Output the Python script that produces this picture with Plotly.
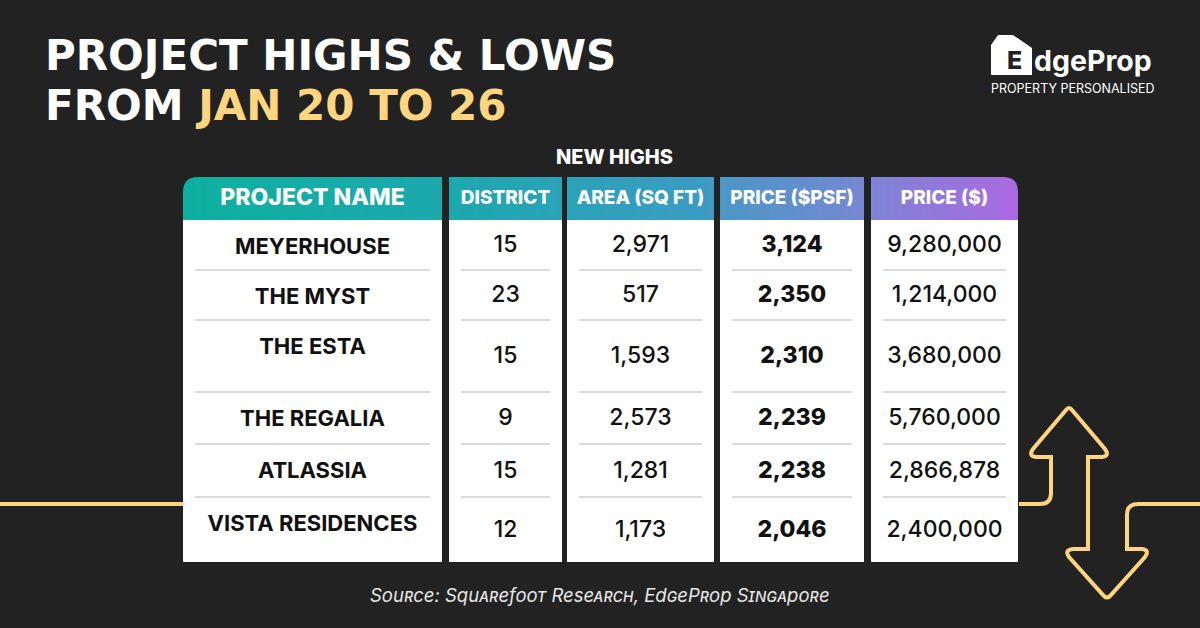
import plotly.graph_objects as go

# table content
headers = ["PROJECT NAME", "DISTRICT", "AREA (SQ FT)", "PRICE ($PSF)", "PRICE ($)"]
projects = ["MEYERHOUSE", "THE MYST", "THE ESTA", "THE REGALIA", "ATLASSIA", "VISTA RESIDENCES"]
districts = [15, 23, 15, 9, 15, 12]
areas = [2971, 517, 1593, 2573, 1281, 1173]
psf = [3124, 2350, 2310, 2239, 2238, 2046]
prices = [9280000, 1214000, 3680000, 5760000, 2866878, 2400000]

BG = "#222222"
YELLOW = "#FFD47F"
FONT = "Inter"

# page layout in pixels (x to the right, y downwards)
col_left = [183, 449, 567, 720, 871]
col_right = [442, 562, 714, 864, 1018]
head_top, head_bot = 177, 220
row_edges = [220, 270, 320, 392, 444, 497, 562]

# header gradient stops (x, rgb)
grad = [(183, (13, 176, 160)), (450, (29, 168, 174)), (567, (42, 162, 184)),
        (714, (62, 155, 196)), (720, (74, 151, 198)), (864, (118, 136, 211)),
        (871, (126, 132, 214)), (1018, (170, 106, 225))]


def grad_color(x):
    for (x0, c0), (x1, c1) in zip(grad[:-1], grad[1:]):
        if x0 <= x <= x1:
            t = (x - x0) / (x1 - x0) if x1 > x0 else 0
            c = [round(a + (b - a) * t) for a, b in zip(c0, c1)]
            return "rgb(%d,%d,%d)" % tuple(c)
    c = grad[-1][1] if x > grad[-1][0] else grad[0][1]
    return "rgb(%d,%d,%d)" % c


shapes = []
R = 15
# yellow line, left side
shapes.append(dict(type="line", x0=0, x1=183, y0=504, y1=504,
                   line=dict(color=YELLOW, width=4), layer="below"))
# yellow line with double arrow, right side
arrow = ("M1019,504 L1040,504 Q1051,504 1051,493 L1051,457 L1036,457 "
         "Q1028,456 1033,449 L1066,410 Q1069,406 1072,410 L1105,449 "
         "Q1110,456 1102,457 L1088,457 L1088,549 L1073,549 Q1064,550 1069,557 "
         "L1104,596 Q1107,599 1110,596 L1145,557 Q1150,550 1142,549 L1127,549 "
         "L1127,515 Q1127,504 1138,504 L1200,504")
shapes.append(dict(type="path", path=arrow, line=dict(color=YELLOW, width=4),
                   layer="below"))

# white column panels
for l, r in zip(col_left, col_right):
    shapes.append(dict(type="rect", x0=l, x1=r, y0=head_bot, y1=row_edges[-1],
                       fillcolor="white", line=dict(width=0), layer="below"))

# header backgrounds: rounded ends + thin stripes for the gradient
shapes.append(dict(type="path",
                   path=f"M183,{head_bot} L183,{head_top+R} Q183,{head_top} {183+R},{head_top} "
                        f"L{183+2*R},{head_top} L{183+2*R},{head_bot} Z",
                   fillcolor=grad_color(183), line=dict(width=0), layer="below"))
shapes.append(dict(type="path",
                   path=f"M{1018-2*R},{head_top} L{1018-R},{head_top} Q1018,{head_top} 1018,{head_top+R} "
                        f"L1018,{head_bot} L{1018-2*R},{head_bot} Z",
                   fillcolor=grad_color(1018), line=dict(width=0), layer="below"))
step = 3
for i, (l, r) in enumerate(zip(col_left, col_right)):
    a = l + R if i == 0 else l
    b = r - R if i == len(col_left) - 1 else r
    x = a
    while x < b:
        x1 = min(x + step + 0.6, b)
        shapes.append(dict(type="rect", x0=x, x1=x1, y0=head_top, y1=head_bot,
                           fillcolor=grad_color(x + step / 2), line=dict(width=0),
                           layer="below"))
        x += step

# row separators inside each column
for l, r in zip(col_left, col_right):
    for y in row_edges[1:-1]:
        shapes.append(dict(type="line", x0=l + 12, x1=r - 12, y0=y, y1=y,
                           line=dict(color="#CFCFCF", width=1.5), layer="below"))

# logo house
shapes.append(dict(type="path",
                   path="M991,75 L991,45 L998,35 L1013,35 L1032,48 L1032,75 Z",
                   fillcolor="white", line=dict(width=0), layer="below"))

fig = go.Figure()

centers = [(l + r) / 2 for l, r in zip(col_left, col_right)]
row_mid = [(a + b) / 2 + 1.5 for a, b in zip(row_edges[:-1], row_edges[1:])]
name_y = [a + 28 for a in row_edges[:-1]]

fig.add_trace(go.Scatter(
    x=centers, y=[(head_top + head_bot) / 2 + 1] * 5, text=headers, mode="text",
    textfont=dict(family=FONT, size=[23, 19, 19, 19, 19], color="white", weight=800),
    hoverinfo="skip", showlegend=False))

columns = [
    (projects, name_y, 22, 700),
    ([str(v) for v in districts], row_mid, 23, 500),
    ([f"{v:,}" for v in areas], row_mid, 23, 500),
    ([f"{v:,}" for v in psf], row_mid, 23, 800),
    ([f"{v:,}" for v in prices], row_mid, 23, 500),
]
for cx, (vals, ys, size, weight) in zip(centers, columns):
    fig.add_trace(go.Scatter(
        x=[cx] * len(vals), y=ys, text=vals, mode="text",
        textfont=dict(family=FONT, size=size, color="#111111", weight=weight),
        hoverinfo="skip", showlegend=False))

title = ("<span style='font-size:42px'>PROJECT HIGHS &amp; LOWS</span><br>"
         "<span style='font-size:42px'>FROM <span style='color:#FFD580'>JAN 20 TO 26</span></span>")

annotations = [
    dict(x=43, y=80, text=title, xanchor="left", yanchor="middle", align="left",
         font=dict(family="DejaVu Sans", size=38.5, color="white", weight=700)),
    dict(x=614, y=157, text="NEW HIGHS", xanchor="center", yanchor="middle",
         font=dict(family=FONT, size=20, color="white", weight=800)),
    dict(x=600, y=595, text="Source: Squarefoot Research, EdgeProp Singapore",
         xanchor="center", yanchor="middle",
         font=dict(family=FONT, size=18.5, color="#E6E6E6", style="italic",
                   variant="small-caps")),
    dict(x=1014, y=60, text="E", xanchor="center", yanchor="middle",
         font=dict(family=FONT, size=25, color=BG, weight=800)),
    dict(x=1032, y=60, text="dgeProp", xanchor="left", yanchor="middle",
         font=dict(family=FONT, size=28.5, color="white", weight=700)),
    dict(x=1073, y=88, text="PROPERTY PERSONALISED", xanchor="center", yanchor="middle",
         font=dict(family=FONT, size=12.5, color="white")),
]
for a in annotations:
    a.update(xref="x", yref="y", showarrow=False)

fig.update_layout(
    width=1200, height=628,
    margin=dict(l=0, r=0, t=0, b=0),
    paper_bgcolor=BG, plot_bgcolor=BG,
    xaxis=dict(range=[0, 1200], visible=False, fixedrange=True),
    yaxis=dict(range=[628, 0], visible=False, fixedrange=True),
    shapes=shapes, annotations=annotations,
)

fig.write_html("out.html", config={"displayModeBar": False},
               post_script="document.body.style.margin='0';"
                           "document.body.style.background='#222222';"
                           "document.body.style.overflow='hidden';")
